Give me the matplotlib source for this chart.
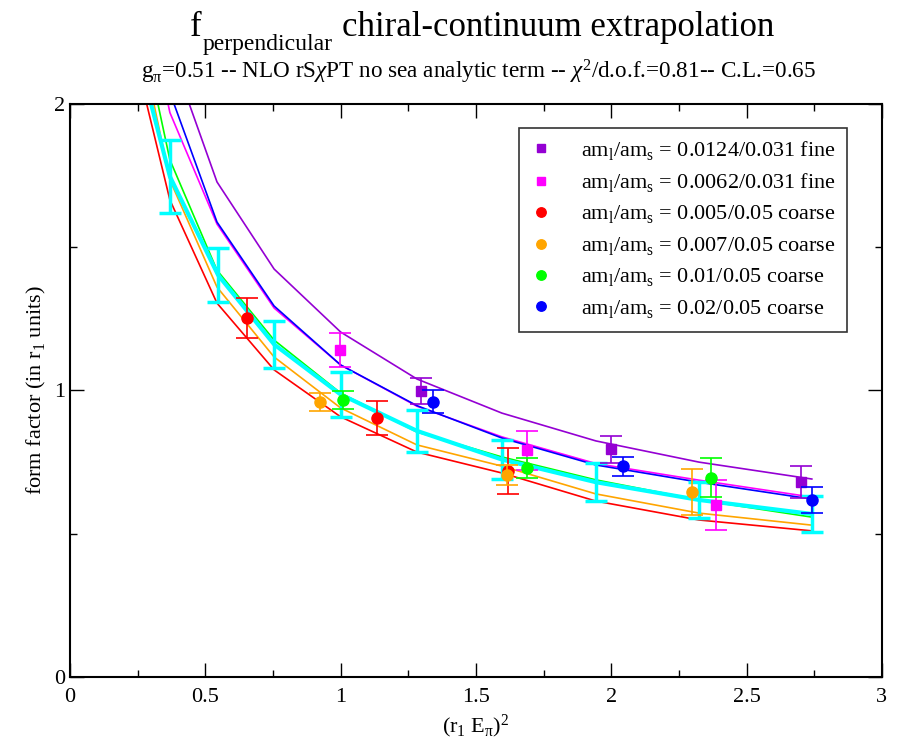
import matplotlib
matplotlib.use("Agg")
import matplotlib.pyplot as plt
import matplotlib._mathtext as mt

plt.rcParams['font.family'] = ['Liberation Serif', 'DejaVu Serif']
plt.rcParams['mathtext.fontset'] = 'custom'
plt.rcParams['mathtext.rm'] = 'Liberation Serif'
plt.rcParams['mathtext.it'] = 'Liberation Serif:italic'
# deeper subscripts, like the original plot
mt.FontConstantsBase.sub1 = 0.45
mt.FontConstantsBase.sub2 = 0.6

# fit curves (piecewise, common x nodes)
x_curve = [0.25, 0.369, 0.543, 0.754, 1.0, 1.282, 1.596, 1.943, 2.324, 2.741]
y_purple = [2.6, 2.19, 1.728, 1.424, 1.204, 1.04, 0.921, 0.824, 0.75, 0.691]
y_magenta = [2.5, 1.97, 1.581, 1.288, 1.089, 0.945, 0.838, 0.745, 0.687, 0.628]
y_blue = [2.6, 2.04, 1.588, 1.295, 1.089, 0.947, 0.834, 0.740, 0.680, 0.621]
y_red = [2.13, 1.665, 1.305, 1.072, 0.908, 0.785, 0.712, 0.614, 0.548, 0.51]
y_orange = [2.27, 1.735, 1.361, 1.117, 0.939, 0.81, 0.736, 0.639, 0.572, 0.53]
y_green = [2.33, 1.805, 1.42, 1.176, 0.991, 0.855, 0.768, 0.688, 0.618, 0.558]

# chiral-continuum extrapolation with errors
x_ext = [0.25, 0.369, 0.547, 0.754, 1.0, 1.282, 1.596, 1.943, 2.324, 2.741]
y_ext = [2.18, 1.747, 1.403, 1.161, 0.986, 0.859, 0.759, 0.68, 0.618, 0.569]
e_ext = [0.0, 0.128, 0.094, 0.082, 0.078, 0.074, 0.068, 0.066, 0.063, 0.063]

# data points
x_p = [1.297, 2.0, 2.70]
y_p = [0.998, 0.795, 0.68]
e_p = [0.045, 0.047, 0.055]
x_m = [0.998, 1.69, 2.386]
y_m = [1.141, 0.792, 0.60]
e_m = [0.058, 0.068, 0.087]
x_r = [0.654, 1.134, 1.618]
y_r = [1.253, 0.904, 0.72]
e_r = [0.07, 0.06, 0.08]
x_o = [0.924, 1.614, 2.30]
y_o = [0.96, 0.705, 0.646]
e_o = [0.03, 0.035, 0.08]
x_g = [1.008, 1.69, 2.37]
y_g = [0.967, 0.729, 0.695]
e_g = [0.03, 0.035, 0.068]
x_b = [1.341, 2.043, 2.74]
y_b = [0.96, 0.736, 0.618]
e_b = [0.04, 0.033, 0.045]

labels = [r'am$_\mathrm{l}$/am$_\mathrm{s}$ = 0.0124/0.031 fine',
          r'am$_\mathrm{l}$/am$_\mathrm{s}$ = 0.0062/0.031 fine',
          r'am$_\mathrm{l}$/am$_\mathrm{s}$ = 0.005/0.05 coarse',
          r'am$_\mathrm{l}$/am$_\mathrm{s}$ = 0.007/0.05 coarse',
          r'am$_\mathrm{l}$/am$_\mathrm{s}$ = 0.01/0.05 coarse',
          r'am$_\mathrm{l}$/am$_\mathrm{s}$ = 0.02/0.05 coarse']

fig = plt.figure(figsize=(8.99, 7.45), dpi=100)
ax = fig.add_axes([0.0779, 0.0913, 0.9031, 0.7691])

curves = [(y_purple, '#9400d3'), (y_magenta, '#ff00ff'), (y_red, '#ff0000'),
          (y_orange, '#ffa500'), (y_green, '#00ff00'), (y_blue, '#0000ff')]
for yc, c in curves:
    ax.plot(x_curve, yc, color=c, lw=1.2)

ax.plot(x_ext, y_ext, color='#00ffff', lw=3)
ax.errorbar(x_ext[1:], y_ext[1:], yerr=e_ext[1:], fmt='none', ecolor='#00ffff',
            elinewidth=2.5, capsize=8, capthick=2.5)

points = [(x_p, y_p, e_p, '#9400d3', 's'), (x_m, y_m, e_m, '#ff00ff', 's'),
          (x_r, y_r, e_r, '#ff0000', 'o'), (x_o, y_o, e_o, '#ffa500', 'o'),
          (x_g, y_g, e_g, '#00ff00', 'o'), (x_b, y_b, e_b, '#0000ff', 'o')]
handles = []
for (xs, ys, es, c, m), lab in zip(points, labels):
    ax.errorbar(xs, ys, yerr=es, fmt='none', ecolor=c, elinewidth=1.2,
                capsize=8, capthick=1.2)
    h, = ax.plot(xs, ys, ls='none', marker=m, color=c,
                 markersize=7 if m == 's' else 8, label=lab)
    handles.append(h)

ax.set_xlim(0, 3)
ax.set_ylim(0, 2)
ax.set_xticks([0, 0.5, 1, 1.5, 2, 2.5, 3])
ax.set_xticklabels(['0', '0.5', '1', '1.5', '2', '2.5', '3'])
ax.set_xticks([0.25, 0.75, 1.25, 1.75, 2.25, 2.75], minor=True)
ax.set_yticks([0, 1, 2])
ax.set_yticks([0.5, 1.5], minor=True)
ax.tick_params(which='both', direction='in', top=True, right=True,
               labelsize=16, width=1)
ax.tick_params(which='major', length=10)
ax.tick_params(which='minor', length=5)
ax.tick_params(axis='x', pad=8)
for s in ax.spines.values():
    s.set_linewidth(1.5)

ax.set_xlabel(r'(r$_\mathrm{1}$ E$_\mathrm{π}$)$^\mathrm{2}$', fontsize=16)
ax.set_ylabel(r'form factor (in r$_\mathrm{1}$ units)', fontsize=16)

# title: big "f", smaller lowered subscript, then the rest
fig.text(190 / 899, 1 - 36 / 745, 'f', ha='left', va='baseline', fontsize=25)
fig.text(203 / 899, 1 - 50 / 745, 'perpendicular', ha='left', va='baseline', fontsize=17)
fig.text(342 / 899, 1 - 36 / 745, 'chiral-continuum extrapolation',
         ha='left', va='baseline', fontsize=25)
fig.text(0.532, 1 - 78 / 745,
         r'g$_\mathrm{π}$=0.51 -- NLO rS$\chi$PT no sea analytic term -- $\chi^\mathrm{2}$/d.o.f.=0.81-- C.L.=0.65',
         ha='center', va='baseline', fontsize=16.7)

leg = ax.legend(handles=handles, loc='upper right', bbox_to_anchor=(0.957, 0.958),
                borderaxespad=0, fontsize=16, frameon=True, fancybox=False,
                edgecolor='black', handlelength=1.0, handletextpad=1.3,
                borderpad=0.5, labelspacing=0.4, markerscale=0.85)
leg.get_frame().set_linewidth(1.2)

fig.savefig('out.png', dpi=100)
